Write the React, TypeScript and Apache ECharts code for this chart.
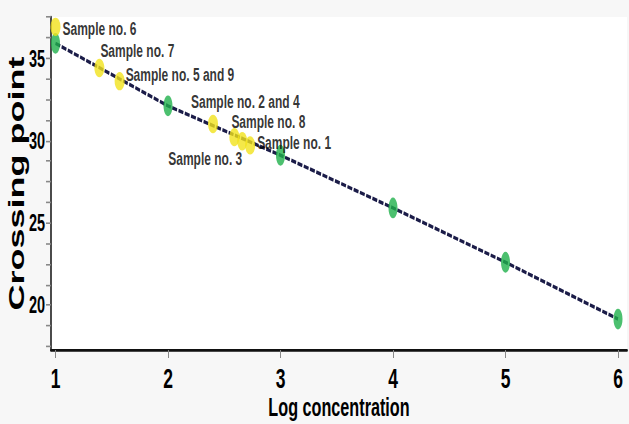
import React, { useEffect, useRef } from "react";
import * as echarts from "echarts";

// Standard curve (green points)
const stdX = [1, 2, 3, 4, 5, 6];
const stdY = [35.9, 32.1, 29.1, 25.9, 22.6, 19.15];

// Samples (yellow points)
const sampleNames = [
  "Sample no. 6",
  "Sample no. 7",
  "Sample no. 5 and 9",
  "Sample no. 2 and 4",
  "Sample no. 8",
  "Sample no. 3",
  "Sample no. 1",
];
const sampleX = [1.0, 1.39, 1.57, 2.4, 2.59, 2.66, 2.73];
const sampleY = [36.9, 34.4, 33.6, 31.0, 30.2, 29.95, 29.7];

// Axis ticks / labels
const xTickValues = [1, 2, 3, 4, 5, 6];
const yTickValues = [17.5, 18.75, 20, 21.25, 22.5, 23.75, 25, 26.25, 27.5, 28.75, 30, 31.25, 32.5, 33.75, 35, 36.25, 37.5];
const yLabelValues = [20, 25, 30, 35];

// label placement (style only)
const labelPlacement = [
  { align: "left", offset: [7, 1] },
  { align: "left", offset: [1, -11] },
  { align: "left", offset: [6, -4.5] },
  { align: "left", offset: [-22, -14] },
  { align: "left", offset: [-3, -10] },
  { align: "right", offset: [0, 11] },
  { align: "left", offset: [7, -1.8] },
];

const W = 629;
const H = 424;
const S = 1.6; // vertical stretch of the figure
const LH = H / S;

const FONT = "'Liberation Sans', Arial, sans-serif";

export default function App() {
  const ref = useRef<HTMLDivElement>(null);
  useEffect(() => {
    if (!ref.current) return;
    const chart = echarts.init(ref.current, undefined, { renderer: "svg" });
    const option: any = {
      animation: false,
      backgroundColor: "#f7f7f7",
      grid: {
        left: 51,
        right: 2,
        top: 10.6,
        bottom: LH - 218.75,
        containLabel: false,
        outerBoundsMode: "none",
        show: true,
        backgroundColor: "#ffffff",
        borderWidth: 0,
      },
      xAxis: {
        type: "value",
        min: 0.96,
        max: 6.08,
        name: "Log concentration",
        nameLocation: "middle",
        nameGap: 27.5,
        nameMoveOverlap: false,
        nameTextStyle: { fontFamily: FONT, fontWeight: "bold", fontSize: 16.2, color: "#000" },
        axisLine: { show: true, onZero: false, lineStyle: { color: "#111", width: 1.7 } },
        axisTick: { show: true, customValues: xTickValues, length: 5, lineStyle: { color: "#888", width: 1 } },
        axisLabel: {
          customValues: xTickValues,
          margin: 8.5,
          fontFamily: FONT,
          fontWeight: "bold",
          fontSize: 17.5,
          color: "#000",
        },
        splitLine: { show: false },
      },
      yAxis: {
        type: "value",
        min: 17.27,
        max: 37.5,
        name: "Crossing point",
        nameLocation: "middle",
        nameRotate: 90,
        nameGap: 23,
        nameMoveOverlap: false,
        nameTextStyle: { fontFamily: FONT, fontWeight: "bold", fontSize: 22.5, color: "#000" },
        axisLine: { show: true, onZero: false, lineStyle: { color: "#111", width: 1.5 } },
        axisTick: { show: true, customValues: yTickValues, length: 5, lineStyle: { color: "#888", width: 1 } },
        axisLabel: {
          customValues: yLabelValues,
          margin: 6,
          fontFamily: FONT,
          fontWeight: "bold",
          fontSize: 14.5,
          color: "#000",
        },
        splitLine: { show: false },
      },
      series: [
        {
          type: "line",
          data: stdX.map((x, i) => [x, stdY[i]]),
          symbol: "none",
          z: 2,
          lineStyle: { color: "#1b1c48", width: 2.2, type: [5, 1.5] },
        },
        {
          type: "scatter",
          data: stdX.map((x, i) => [x, stdY[i]]),
          symbol: "circle",
          symbolSize: [9, 13],
          z: 3,
          itemStyle: { color: "#1fb04b" },
        },
        {
          type: "scatter",
          data: sampleX.map((x, i) => ({
            value: [x, sampleY[i]],
            name: sampleNames[i],
            label: {
              show: true,
              position: "inside",
              formatter: sampleNames[i],
              align: labelPlacement[i].align,
              verticalAlign: "middle",
              offset: labelPlacement[i].offset,
            },
          })),
          symbol: "circle",
          symbolSize: [10, 11.5],
          z: 4,
          itemStyle: { color: "#f1e21c" },
          label: {
            show: true,
            fontFamily: FONT,
            fontWeight: "bold",
            fontSize: 12,
            color: "#000",
            textBorderWidth: 0,
          },
        },
      ],
    };
    chart.setOption(option);
    return () => chart.dispose();
  }, []);

  return (
    <div style={{ position: "absolute", left: 0, top: 0, width: W, height: H, overflow: "hidden", background: "#f7f7f7" }}>
      <div
        ref={ref}
        style={{ width: W, height: LH, transform: `scaleY(${S})`, transformOrigin: "0 0" }}
      />
    </div>
  );
}
